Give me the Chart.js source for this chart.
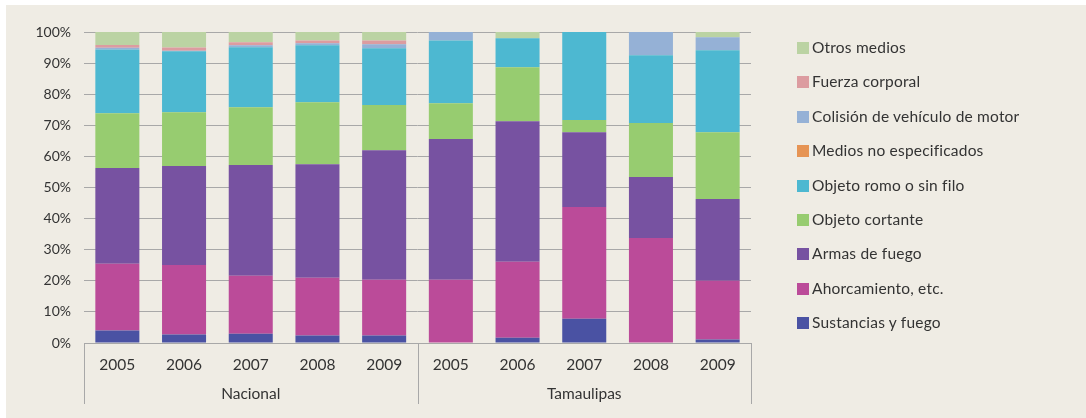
<!DOCTYPE html>
<html>
<head>
<meta charset="utf-8">
<script src="https://cdn.jsdelivr.net/npm/chart.js@4.4.1/dist/chart.umd.min.js"></script>
<style>
  html, body { margin: 0; padding: 0; background: #ffffff; }
  #fondo { position: absolute; left: 6px; top: 5px; width: 1080px; height: 413px; background: #efece4; }
  #wrap { position: absolute; left: 0; top: 0; width: 1086px; height: 418px; }
  #leyenda { position: absolute; left: 797px; top: 42px; font-family: Lato, "Open Sans", sans-serif; font-size: 15.5px; letter-spacing: 0.2px; color: #333; }
  .item { position: relative; height: 34.4px; }
  .caja { position: absolute; left: 0; top: 0; width: 12px; height: 12px; }
  .txt { position: absolute; left: 15px; top: -4px; white-space: nowrap; }
</style>
</head>
<body>
<div id="fondo"></div>
<div id="wrap"><canvas id="grafica" width="1086" height="418"></canvas></div>
<div id="leyenda"></div>
<script>
  // categorías (años) y grupos
  const years = ["2005", "2006", "2007", "2008", "2009", "2005", "2006", "2007", "2008", "2009"];
  const groups = ["Nacional", "Tamaulipas"];
  const yTicks = [0, 10, 20, 30, 40, 50, 60, 70, 80, 90, 100];

  // porcentajes por medio (Nacional 2005-2009, Tamaulipas 2005-2009)
  const sustancias = [4.0, 2.7, 3.0, 2.4, 2.4, 0, 1.7, 7.8, 0, 1.1];
  const ahorcamiento = [21.5, 22.4, 18.6, 18.6, 17.9, 20.3, 24.4, 35.9, 33.8, 18.9];
  const armas = [30.8, 31.8, 35.6, 36.5, 41.7, 45.3, 45.2, 24.1, 19.6, 26.3];
  const cortante = [17.6, 17.3, 18.6, 19.9, 14.5, 11.5, 17.4, 3.9, 17.3, 21.5];
  const romo = [20.5, 19.6, 19.3, 18.3, 18.3, 20.2, 9.3, 28.3, 21.8, 26.3];
  const noEspecificados = [0, 0, 0, 0, 0, 0, 0, 0, 0, 0];
  const colision = [0.5, 0.2, 0.6, 0.7, 1.3, 2.7, 0, 0, 7.5, 4.2];
  const fuerza = [0.9, 1.0, 1.0, 0.9, 1.2, 0, 0, 0, 0, 0];
  const otros = [4.2, 5.0, 3.3, 2.7, 2.7, 0, 2.0, 0, 0, 1.7];

  const series = [
    { label: "Sustancias y fuego", data: sustancias, color: "#4a52a3" },
    { label: "Ahorcamiento, etc.", data: ahorcamiento, color: "#bb4b99" },
    { label: "Armas de fuego", data: armas, color: "#7752a1" },
    { label: "Objeto cortante", data: cortante, color: "#97cc70" },
    { label: "Objeto romo o sin filo", data: romo, color: "#4db8d1" },
    { label: "Medios no especificados", data: noEspecificados, color: "#e69454" },
    { label: "Colisión de vehículo de motor", data: colision, color: "#95b1d6" },
    { label: "Fuerza corporal", data: fuerza, color: "#dc9ca0" },
    { label: "Otros medios", data: otros, color: "#bbd3a3" },
  ];

  const fontFamily = 'Lato, "Open Sans", sans-serif';
  const lineColor = "#a8a8a8";

  // leyenda en HTML (orden inverso, como en la imagen)
  const leyenda = document.getElementById("leyenda");
  series.slice().reverse().forEach((s) => {
    const item = document.createElement("div");
    item.className = "item";
    item.innerHTML = '<div class="caja" style="background:' + s.color + '"></div><div class="txt">' + s.label + "</div>";
    leyenda.appendChild(item);
  });

  // separadores y nombres de grupo debajo del eje x
  const groupPlugin = {
    id: "groupPlugin",
    afterDraw(chart) {
      const ctx = chart.ctx;
      const x = chart.scales.x;
      const area = chart.chartArea;
      const mid = (x.getPixelForValue(4) + x.getPixelForValue(5)) / 2;
      const seps = [area.left, mid, area.right];
      ctx.save();
      ctx.strokeStyle = lineColor;
      ctx.lineWidth = 1;
      seps.forEach((sx) => {
        ctx.beginPath();
        ctx.moveTo(Math.round(sx) + 0.5, area.bottom);
        ctx.lineTo(Math.round(sx) + 0.5, area.bottom + 61);
        ctx.stroke();
      });
      ctx.fillStyle = "#333";
      ctx.font = "15.5px " + fontFamily;
      ctx.textAlign = "center";
      ctx.textBaseline = "middle";
      ctx.fillText(groups[0], (area.left + mid) / 2, area.bottom + 51);
      ctx.fillText(groups[1], (mid + area.right) / 2, area.bottom + 51);
      ctx.restore();
    },
  };

  const ctx = document.getElementById("grafica").getContext("2d");
  new Chart(ctx, {
    type: "bar",
    data: {
      labels: years,
      datasets: series.map((s) => ({
        label: s.label,
        data: s.data,
        backgroundColor: s.color,
        borderWidth: 0,
        barPercentage: 0.66,
        categoryPercentage: 1,
      })),
    },
    options: {
      responsive: false,
      animation: false,
      layout: { padding: { top: 32, right: 335, bottom: 0, left: 0 } },
      plugins: {
        legend: { display: false },
        tooltip: { enabled: false },
      },
      scales: {
        x: {
          stacked: true,
          grid: { display: false, drawTicks: false },
          border: { display: true, color: lineColor, width: 1 },
          ticks: { color: "#333", font: { family: fontFamily, size: 15.5 }, padding: 13, maxRotation: 0 },
          afterFit: (scale) => { scale.height = 75; },
        },
        y: {
          stacked: true,
          min: 0,
          max: 100,
          afterBuildTicks: (scale) => { scale.ticks = yTicks.map((v) => ({ value: v })); },
          grid: { color: lineColor, lineWidth: 1, drawTicks: false },
          border: { display: false },
          ticks: { color: "#333", font: { family: fontFamily, size: 14 }, padding: 13, callback: (v) => v + "%" },
          afterFit: (scale) => { scale.width = 84; },
        },
      },
    },
    plugins: [groupPlugin],
  });
</script>
</body>
</html>
